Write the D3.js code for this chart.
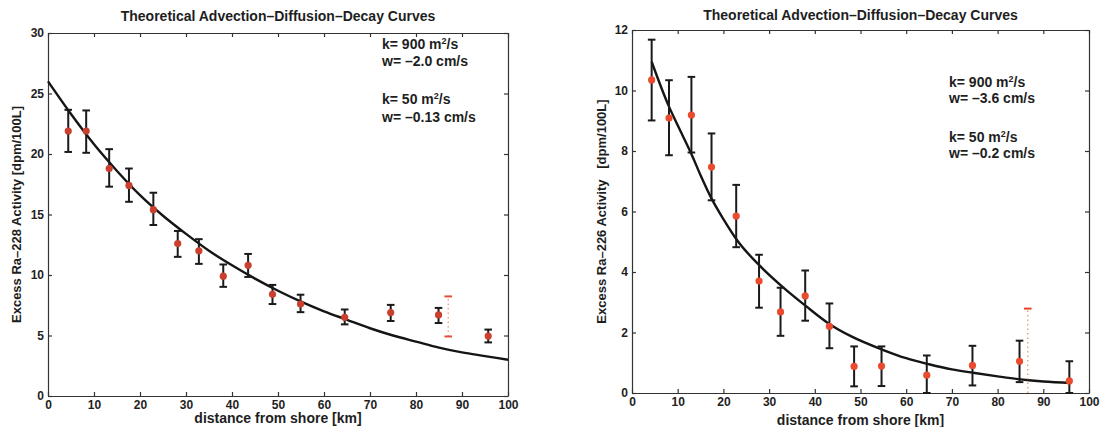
<!DOCTYPE html>
<html>
<head>
<meta charset="utf-8">
<script src="https://cdn.jsdelivr.net/npm/d3@7"></script>
<style>
  body { margin: 0; background: #fff; }
  svg text { font-family: "Liberation Sans", Arial, sans-serif; font-weight: bold; fill: #1e1e1e; }
  .axis path, .axis line { stroke: #333; stroke-width: 1.2; }
  .axis text { font-size: 12px; }
</style>
</head>
<body>
<svg id="chart" width="1104" height="427"></svg>
<script>
// ---- DATA ----

// left panel: Ra-228
var ra228Dist  = [4.4, 8.3, 13.3, 17.6, 22.9, 28.2, 32.8, 38.1, 43.5, 48.8, 54.9, 64.5, 74.5, 84.9, 95.7];
var ra228Value = [21.9, 21.9, 18.8, 17.4, 15.4, 12.6, 12.0, 9.9, 10.8, 8.4, 7.6, 6.5, 6.9, 6.7, 4.95];
var ra228Low   = [20.17, 20.1, 17.3, 16.05, 14.13, 11.5, 10.92, 9.02, 9.84, 7.6, 6.93, 5.92, 6.2, 6.03, 4.43];
var ra228High  = [23.65, 23.6, 20.4, 18.8, 16.8, 13.64, 12.96, 10.87, 11.74, 9.18, 8.37, 7.15, 7.53, 7.28, 5.49];
var ra228Dotted = [87, 4.92, 8.23];   // dist, low, high
var ra228CurveDist  = [0, 5, 10, 15, 20, 25, 30, 35, 40, 45, 50, 55, 60, 65, 70, 75, 80, 85, 90, 95, 100];
var ra228CurveValue = [26.0, 23.3, 20.8, 18.6, 16.6, 14.9, 13.4, 12.0, 10.8, 9.7, 8.7, 7.8, 7.0, 6.3, 5.6, 5.0, 4.5, 4.0, 3.6, 3.3, 3.0];
var ra228YTicks = [0, 5, 10, 15, 20, 25, 30];
var ra228Notes  = [["k= 900 m", "2", "/s"], ["w= –2.0 cm/s"], ["k= 50 m", "2", "/s"], ["w= –0.13 cm/s"]];

// right panel: Ra-226
var ra226Dist  = [4.3, 8.1, 13.0, 17.4, 22.8, 27.8, 32.5, 37.9, 43.2, 48.6, 54.6, 64.5, 74.5, 84.8, 95.7];
var ra226Value = [10.35, 9.09, 9.19, 7.47, 5.85, 3.70, 2.68, 3.21, 2.20, 0.88, 0.89, 0.59, 0.91, 1.05, 0.40];
var ra226Low   = [9.01, 7.86, 7.95, 6.37, 4.82, 2.82, 1.89, 2.39, 1.48, 0.22, 0.23, 0, 0.25, 0.36, 0];
var ra226High  = [11.68, 10.34, 10.45, 8.58, 6.88, 4.57, 3.48, 4.05, 2.96, 1.54, 1.54, 1.24, 1.56, 1.73, 1.05];
var ra226Dotted = [86.6, 0, 2.79];
var ra226CurveDist  = [4.3, 8, 10, 13, 15, 17.5, 20, 23, 28, 33, 38, 43, 48, 55, 60, 65, 70, 75, 80, 85, 90, 96];
var ra226CurveValue = [10.95, 9.5, 8.85, 7.9, 7.2, 6.4, 5.75, 5.05, 4.2, 3.5, 2.88, 2.3, 1.87, 1.42, 1.15, 0.95, 0.78, 0.66, 0.55, 0.45, 0.38, 0.33];
var ra226YTicks = [0, 2, 4, 6, 8, 10, 12];
var ra226Notes  = [["k= 900 m", "2", "/s"], ["w= –3.6 cm/s"], ["k= 50 m", "2", "/s"], ["w= –0.2 cm/s"]];

var xTicks = [0, 10, 20, 30, 40, 50, 60, 70, 80, 90, 100];
var titleText = "Theoretical Advection–Diffusion–Decay Curves";
var xLabel = "distance from shore [km]";

var svg = d3.select("#chart");

function drawPanel(p) {
  var x = d3.scaleLinear().domain([0, 100]).range([p.left, p.right]);
  var y = d3.scaleLinear().domain([0, p.yMax]).range([p.bottom, p.top]);
  var g = svg.append("g");

  // axes, MATLAB box with inward ticks on all sides
  g.append("g").attr("class", "axis").attr("transform", "translate(0," + p.bottom + ")")
    .call(d3.axisBottom(x).tickValues(xTicks).tickSizeInner(-4).tickSizeOuter(0).tickPadding(4));
  g.append("g").attr("class", "axis").attr("transform", "translate(0," + p.top + ")")
    .call(d3.axisTop(x).tickValues(xTicks).tickSizeInner(-4).tickSizeOuter(0).tickFormat(""));
  g.append("g").attr("class", "axis").attr("transform", "translate(" + p.left + ",0)")
    .call(d3.axisLeft(y).tickValues(p.yTicks).tickSizeInner(-4).tickSizeOuter(0).tickPadding(4));
  g.append("g").attr("class", "axis").attr("transform", "translate(" + p.right + ",0)")
    .call(d3.axisRight(y).tickValues(p.yTicks).tickSizeInner(-4).tickSizeOuter(0).tickFormat(""));
  g.selectAll(".axis .domain").attr("stroke-width", 1.3);

  // model curve
  var pts = p.curveDist.map(function(d, i) { return [d, p.curveValue[i]]; });
  g.append("path").datum(pts)
    .attr("d", d3.line().x(function(d) { return x(d[0]); }).y(function(d) { return y(d[1]); }).curve(d3.curveMonotoneX))
    .attr("fill", "none").attr("stroke", "#151515").attr("stroke-width", 2.4);

  // error bars
  var cap = 3.8;
  var bars = g.append("g").attr("stroke", "#1a1a1a").attr("stroke-width", 2);
  p.dist.forEach(function(d, i) {
    var cx = x(d);
    bars.append("line").attr("x1", cx).attr("x2", cx).attr("y1", y(p.low[i])).attr("y2", y(p.high[i]));
    bars.append("line").attr("x1", cx - cap).attr("x2", cx + cap).attr("y1", y(p.low[i])).attr("y2", y(p.low[i]));
    bars.append("line").attr("x1", cx - cap).attr("x2", cx + cap).attr("y1", y(p.high[i])).attr("y2", y(p.high[i]));
  });

  // the red dotted bar
  var dx = x(p.dotted[0]);
  g.append("line").attr("x1", dx).attr("x2", dx).attr("y1", y(p.dotted[1])).attr("y2", y(p.dotted[2]))
    .attr("stroke", "#f08a6a").attr("stroke-width", 1.2).attr("stroke-dasharray", "1.5,3");
  [p.dotted[1], p.dotted[2]].forEach(function(v) {
    if (v <= 0) return;
    g.append("line").attr("x1", dx - cap).attr("x2", dx + cap).attr("y1", y(v)).attr("y2", y(v))
      .attr("stroke", p.dotColor).attr("stroke-width", 2);
  });

  // points
  g.selectAll("circle.pt").data(p.dist).enter().append("circle")
    .attr("class", "pt")
    .attr("cx", function(d) { return x(d); })
    .attr("cy", function(d, i) { return y(p.value[i]); })
    .attr("r", 3.6)
    .attr("fill", p.pointColor);

  // labels
  var mid = (p.left + p.right) / 2;
  g.append("text").attr("x", mid).attr("y", p.titleY).attr("text-anchor", "middle")
    .attr("font-size", 14).text(titleText);
  g.append("text").attr("x", mid).attr("y", p.xLabelY).attr("text-anchor", "middle")
    .attr("font-size", 14).text(xLabel);
  g.append("text").attr("transform", "translate(" + p.yLabelX + "," + ((p.top + p.bottom) / 2) + ") rotate(-90)")
    .attr("text-anchor", "middle").attr("font-size", 13).attr("xml:space", "preserve").text(p.yLabel);

  // annotations
  p.notes.forEach(function(n, i) {
    var t = g.append("text").attr("x", p.noteX).attr("y", p.noteY[i]).attr("font-size", 14);
    t.append("tspan").text(n[0]);
    if (n.length > 1) {
      t.append("tspan").attr("dy", -5).attr("font-size", 9).text(n[1]);
      t.append("tspan").attr("dy", 5).text(n[2]);
    }
  });
}

drawPanel({
  left: 48, right: 508, top: 33, bottom: 396, yMax: 30, yTicks: ra228YTicks,
  dist: ra228Dist, value: ra228Value, low: ra228Low, high: ra228High, dotted: ra228Dotted,
  curveDist: ra228CurveDist, curveValue: ra228CurveValue,
  pointColor: "#c9402f", dotColor: "#e0503a",
  titleY: 21, xLabelY: 423, yLabelX: 21, yLabel: "Excess Ra–228 Activity [dpm/100L]",
  notes: ra228Notes, noteX: 382, noteY: [49, 66, 104, 122]
});

drawPanel({
  left: 632, right: 1089, top: 30, bottom: 393, yMax: 12, yTicks: ra226YTicks,
  dist: ra226Dist, value: ra226Value, low: ra226Low, high: ra226High, dotted: ra226Dotted,
  curveDist: ra226CurveDist, curveValue: ra226CurveValue,
  pointColor: "#ea4a2e", dotColor: "#e8442c",
  titleY: 20, xLabelY: 425, yLabelX: 606, yLabel: "Excess Ra–226 Activity   [dpm/100L]",
  notes: ra226Notes, noteX: 949, noteY: [87, 103, 142, 158]
});
</script>
</body>
</html>
